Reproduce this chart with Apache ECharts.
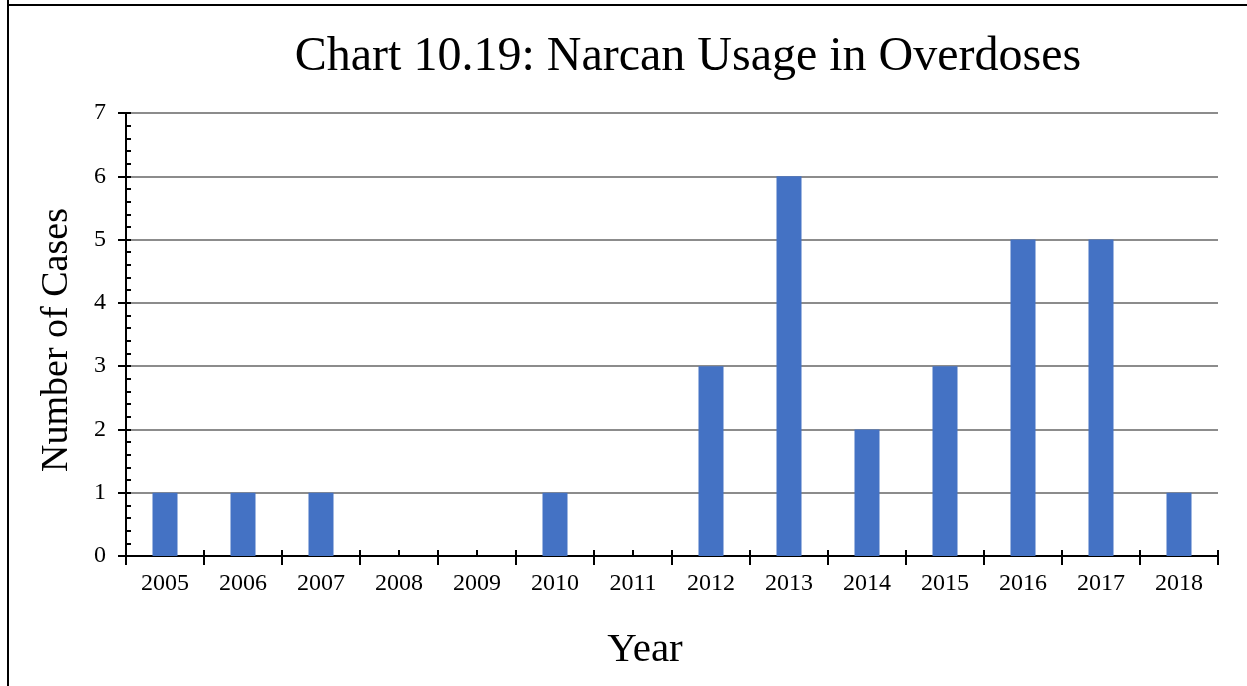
<!DOCTYPE html>
<html><head><meta charset="utf-8">
<script src="https://cdn.jsdelivr.net/npm/echarts@6/dist/echarts.min.js"></script>
<style>html,body{margin:0;padding:0;background:#fff}#c{width:1247px;height:686px}</style>
</head><body><div id="c"></div>
<script>
const years = ['2005','2006','2007','2008','2009','2010','2011','2012','2013','2014','2015','2016','2017','2018'];
const cases = [1,1,1,0,0,1,0,3,6,2,3,5,5,1];
const yTicks = {min:0, max:7, interval:1};
const titleText = 'Chart 10.19: Narcan Usage in Overdoses';
const xName = 'Year';
const yName = 'Number of Cases';

const font = '"Liberation Serif","Times New Roman",serif';
const chart = echarts.init(document.getElementById('c'));
const axisLine = {show:true, lineStyle:{color:'#000', width:2}};
chart.setOption({
  animation:false,
  title:{text:titleText, left:683, top:28, textAlign:'center',
    textStyle:{fontFamily:font, fontSize:48, fontWeight:'normal', color:'#000'}},
  grid:{left:126, right:29, top:113, bottom:130},
  graphic:[
    {type:'line', shape:{x1:8,y1:0,x2:8,y2:686}, style:{stroke:'#000', lineWidth:2}},
    {type:'line', shape:{x1:7,y1:5,x2:1247,y2:5}, style:{stroke:'#000', lineWidth:2}},
    {type:'text', x:645, y:650, style:{text:xName, fontFamily:font, fontSize:41, fill:'#000', align:'center', verticalAlign:'middle'}},
    {type:'text', x:57, y:340, rotation:Math.PI/2, style:{text:yName, fontFamily:font, fontSize:38, fill:'#000', align:'center', verticalAlign:'middle'}}
  ],
  xAxis:[
    {type:'category', data:years, axisLine:axisLine,
     axisTick:{show:true, alignWithLabel:false, inside:false, length:9, lineStyle:{color:'#000', width:2}},
     axisLabel:{fontFamily:font, fontSize:24, color:'#000', margin:16}},
    {type:'category', data:years, position:'bottom', axisLine:{show:false},
     axisTick:{show:true, alignWithLabel:false, inside:true, length:6, lineStyle:{color:'#000', width:2}},
     axisLabel:{show:false}},
    {type:'category', data:years, position:'bottom', axisLine:{show:false},
     axisTick:{show:true, alignWithLabel:true, inside:true, length:6, lineStyle:{color:'#000', width:2}},
     axisLabel:{show:false}}
  ],
  yAxis:[
    {type:'value', min:yTicks.min, max:yTicks.max, interval:yTicks.interval, axisLine:axisLine,
     axisTick:{show:true, inside:false, length:8, lineStyle:{color:'#000', width:2}},
     axisLabel:{fontFamily:font, fontSize:24, color:'#000', margin:20},
     splitLine:{show:true, lineStyle:{color:'#8c8c8c', width:2}}},
    {type:'value', min:yTicks.min, max:yTicks.max, interval:yTicks.interval, position:'left', axisLine:{show:false},
     axisTick:{show:true, inside:true, length:5, lineStyle:{color:'#000', width:2}},
     minorTick:{show:true, splitNumber:5, length:5, lineStyle:{color:'#000', width:2}},
     axisLabel:{show:false}, splitLine:{show:false}}
  ],
  series:[{type:'bar', data:cases, barWidth:25, itemStyle:{color:'#4472C4'}, xAxisIndex:0, yAxisIndex:0}]
});
</script></body></html>
